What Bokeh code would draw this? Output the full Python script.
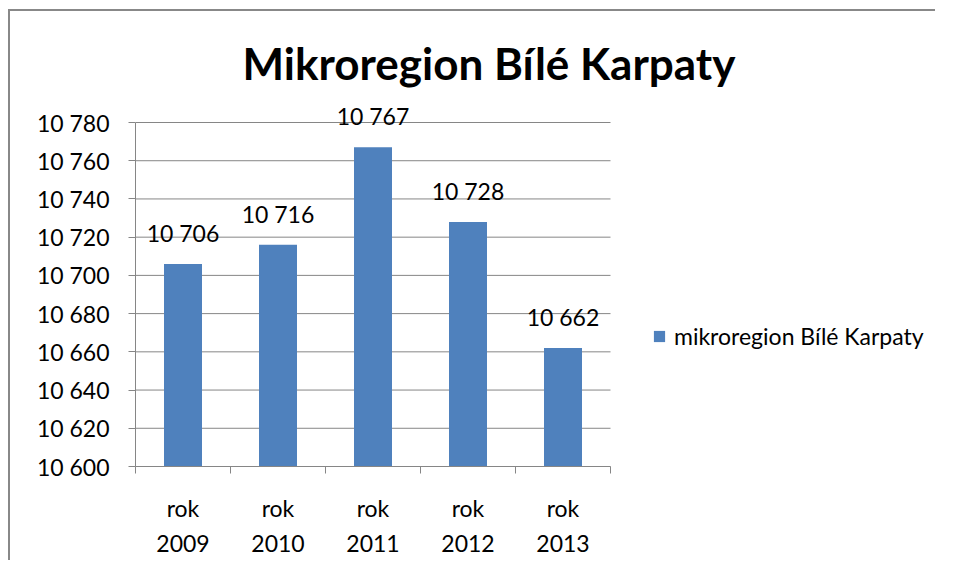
from bokeh.plotting import figure
from bokeh.models import FixedTicker, Range1d, Legend, LegendItem, ColumnDataSource, Title
from bokeh.embed import file_html
from bokeh.resources import INLINE
from bokeh.core.properties import value

title_text = "Mikroregion Bílé Karpaty"
series_name = "mikroregion Bílé Karpaty"
categories = ["rok 2009", "rok 2010", "rok 2011", "rok 2012", "rok 2013"]
values = [10706, 10716, 10767, 10728, 10662]
y_ticks = [10600, 10620, 10640, 10660, 10680, 10700, 10720, 10740, 10760, 10780]

def fmt(v):
    return f"{v:,}".replace(",", " ")

FONT = "Lato"
GRID = "#868686"
n = len(categories)

# layout (pixels, canvas coordinates)
W, H = 927, 551
ML = 125
AXIS_TOP, AXIS_BOTTOM = 111, 455      # where the first / last y tick sit
MT = 84                               # frame top (extra room for data labels)
MB = H - AXIS_BOTTOM
FRAME_W = W - ML
BARS_W = 475
px_per_unit = (AXIS_BOTTOM - AXIS_TOP) / (y_ticks[-1] - y_ticks[0])
y_end = y_ticks[-1] + (AXIS_TOP - MT) / px_per_unit

xs = [i + 0.5 for i in range(n)]
src = ColumnDataSource(dict(x=xs, top=values, label=[fmt(v) for v in values]))

p = figure(width=W, height=H, output_backend="svg", toolbar_location=None,
           x_range=Range1d(0, n * FRAME_W / BARS_W), y_range=Range1d(y_ticks[0], y_end),
           min_border_left=ML, min_border_right=0, min_border_top=MT, min_border_bottom=MB)
p.styles = {"border-left": "2px solid #888888", "border-top": "2px solid #888888",
            "margin-left": "8px", "margin-top": "9px"}
p.outline_line_color = None
p.background_fill_color = "white"

# horizontal gridlines limited to the category area
p.segment(x0=0, x1=n, y0=y_ticks, y1=y_ticks, line_color=GRID, line_width=1)

r = p.vbar(x="x", top="top", bottom=y_ticks[0], width=0.4, source=src,
           fill_color="#4F81BD", line_color=None)
p.text(x="x", y="top", text="label", source=src, text_align="center",
       text_baseline="bottom", y_offset=-17, text_font=value(FONT),
       text_font_size="23px", text_color="black")

# y axis
p.yaxis.bounds = (y_ticks[0], y_ticks[-1])
p.yaxis.ticker = FixedTicker(ticks=y_ticks)
p.yaxis.major_label_overrides = {t: fmt(t) for t in y_ticks}
p.yaxis.major_label_text_font = FONT
p.yaxis.major_label_text_font_size = "23px"
p.yaxis.major_label_text_color = "black"
p.yaxis.axis_line_color = GRID
p.yaxis.major_tick_line_color = GRID
p.yaxis.major_tick_out = 7
p.yaxis.major_tick_in = 0
p.yaxis.minor_tick_line_color = None
p.yaxis.major_label_standoff = 19

# x axis
p.xaxis.bounds = (0, n)
p.xaxis.ticker = FixedTicker(ticks=xs, minor_ticks=list(range(n + 1)))
p.xaxis.major_label_overrides = {x: c.replace(" ", "\n") for x, c in zip(xs, categories)}
p.xaxis.major_label_text_font = FONT
p.xaxis.major_label_text_font_size = "23px"
p.xaxis.major_label_text_color = "black"
p.xaxis.major_label_text_line_height = 1.25
p.xaxis.major_tick_line_color = None
p.xaxis.minor_tick_line_color = GRID
p.xaxis.minor_tick_out = 7
p.xaxis.minor_tick_in = 0
p.xaxis.axis_line_color = GRID
p.xaxis.major_label_standoff = 20

p.xgrid.grid_line_color = None
p.ygrid.grid_line_color = None

p.title = Title(text=title_text, text_font=FONT, text_font_size="44px",
                text_font_style="bold", text_color="black", align="left",
                offset=107, standoff=13)

legend = Legend(items=[LegendItem(label=series_name, renderers=[r])],
                location=(517, 116), background_fill_alpha=0, border_line_color=None,
                label_text_font=FONT, label_text_font_size="23px", label_height=20,
                label_text_color="black",
                glyph_width=14, glyph_height=14, padding=0, margin=0,
                label_standoff=8)
p.add_layout(legend, "center")

open("out.html", "w").write(file_html(p, INLINE))
